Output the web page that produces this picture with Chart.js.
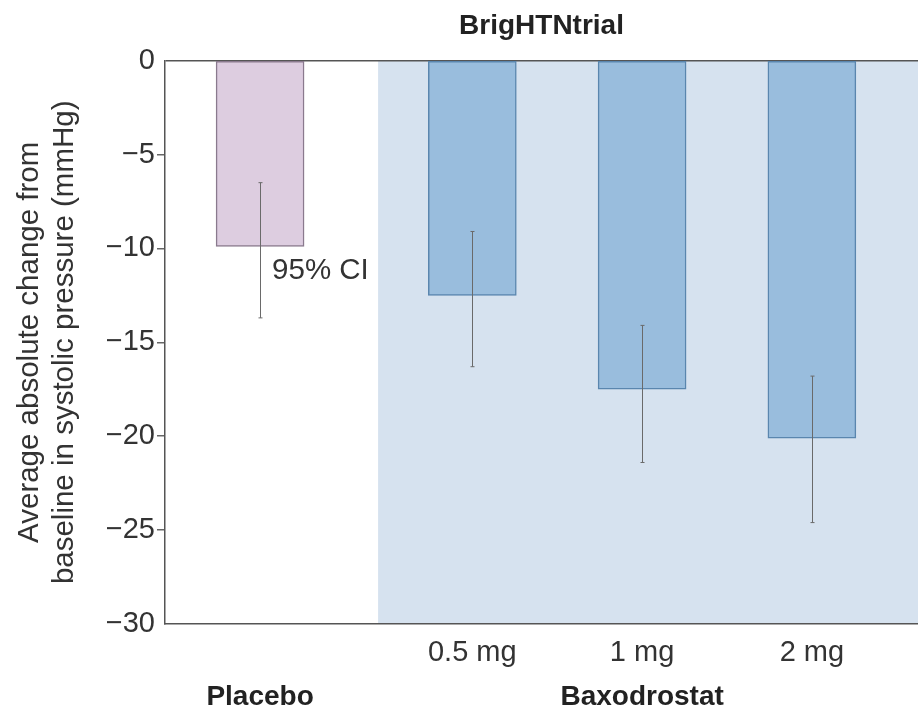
<!DOCTYPE html>
<html>
<head>
<meta charset="utf-8">
<script src="https://cdn.jsdelivr.net/npm/chart.js@4/dist/chart.umd.min.js"></script>
<style>
	body { margin: 0; background: #fff; }
	#wrap { width: 918px; height: 711px; }
</style>
</head>
<body>
<div id="wrap"><canvas id="bar-chart"></canvas></div>
<script>
const categories = ['Placebo', '0.5 mg', '1 mg', '2 mg']
const groups = ['Placebo', 'Baxodrostat', 'Baxodrostat', 'Baxodrostat']
const meanChange = [-9.9, -12.5, -17.5, -20.1]
const ciUpper = [-6.5, -9.1, -14.1, -16.8]
const ciLower = [-13.7, -16.3, -21.4, -24.6]
const yTicks = [0, -5, -10, -15, -20, -25, -30]

// layout: the drug group sits a little further from placebo
const groupGap = 0.25
const positions = categories.map((c, i) => i + (groups[i] !== groups[0] ? groupGap : 0))
const groupNames = [...new Set(groups)]
const groupCentres = groupNames.map((g) => {
	const p = positions.filter((v, i) => groups[i] === g)
	return p.reduce((a, b) => a + b, 0) / p.length
})

const font = 'Liberation Sans, Arial, Helvetica, sans-serif'
Chart.defaults.font.family = font
Chart.defaults.font.size = 29
Chart.defaults.color = '#333'

const barFill = groups.map((g) => (g === 'Placebo' ? '#ddcde0' : '#99bddd'))
const barEdge = groups.map((g) => (g === 'Placebo' ? '#8a7a8e' : '#5a86ae'))

const extras = {
	id: 'extras',
	beforeDraw(chart) {
		const { ctx, chartArea, scales } = chart
		const x0 = scales.x.getPixelForValue(positions[1] - 0.555)
		ctx.save()
		ctx.fillStyle = '#d6e2ef'
		ctx.fillRect(x0, chartArea.top, chartArea.right - x0, chartArea.bottom - chartArea.top)
		ctx.restore()
	},
	afterDatasetsDraw(chart) {
		const { ctx, scales } = chart
		ctx.save()
		ctx.strokeStyle = '#6a6a6a'
		ctx.lineWidth = 1
		positions.forEach((p, i) => {
			const x = Math.round(scales.x.getPixelForValue(p)) + 0.5
			const yTop = scales.y.getPixelForValue(ciUpper[i])
			const yBot = scales.y.getPixelForValue(ciLower[i])
			ctx.beginPath()
			ctx.moveTo(x, yTop)
			ctx.lineTo(x, yBot)
			ctx.moveTo(x - 2, yTop)
			ctx.lineTo(x + 2, yTop)
			ctx.moveTo(x - 2, yBot)
			ctx.lineTo(x + 2, yBot)
			ctx.stroke()
		})
		// CI note next to the placebo whisker
		ctx.fillStyle = '#333'
		ctx.font = '29.5px ' + font
		ctx.textBaseline = 'middle'
		ctx.fillText('95% CI', scales.x.getPixelForValue(positions[0]) + 12, scales.y.getPixelForValue(-11.2))
		ctx.restore()
	}
}

new Chart(document.getElementById('bar-chart'), {
	type: 'bar',
	data: {
		datasets: [
			{
				data: meanChange.map((v, i) => ({ x: positions[i], y: v })),
				backgroundColor: barFill,
				borderColor: barEdge,
				borderWidth: 1.5,
				borderSkipped: false,
				barThickness: 88
			}
		]
	},
	options: {
		responsive: true,
		maintainAspectRatio: false,
		animation: false,
		layout: { padding: 0 },
		plugins: {
			legend: { display: false },
			tooltip: { enabled: false },
			title: {
				display: true,
				text: 'BrigHTNtrial',
				fullSize: false,
				color: '#222',
				font: { size: 28, weight: 'bold' },
				padding: { top: 9, bottom: 18 }
			}
		},
		scales: {
			x: {
				type: 'linear',
				position: 'bottom',
				offset: false,
				weight: 0,
				min: -0.56,
				max: 3.875,
				afterBuildTicks: (scale) => {
					scale.ticks = positions.map((v) => ({ value: v }))
				},
				afterFit: (scale) => {
					scale.height = 50
				},
				ticks: {
					padding: 12,
					autoSkip: false,
					maxRotation: 0,
					callback: (v) => {
						const i = positions.indexOf(v)
						return groups[i] === 'Placebo' ? '' : categories[i]
					}
				},
				grid: { color: 'transparent', drawTicks: false },
				border: { display: true, color: '#555', width: 1.5 }
			},
			x2: {
				type: 'linear',
				position: 'bottom',
				offset: false,
				weight: 1,
				min: -0.56,
				max: 3.875,
				afterBuildTicks: (scale) => {
					scale.ticks = groupCentres.map((v) => ({ value: v }))
				},
				afterFit: (scale) => {
					scale.height = 37
				},
				ticks: {
					padding: 6,
					autoSkip: false,
					maxRotation: 0,
					color: '#222',
					font: { size: 28, weight: 'bold' },
					callback: (v) => groupNames[groupCentres.indexOf(v)]
				},
				grid: { display: false, drawTicks: false },
				border: { display: false }
			},
			y: {
				min: -30,
				max: 0,
				afterBuildTicks: (scale) => {
					scale.ticks = yTicks.map((v) => ({ value: v }))
				},
				afterFit: (scale) => {
					scale.width = 165
				},
				ticks: {
					padding: 2,
					callback: (v) => (v < 0 ? '\u2212' + Math.abs(v) : String(v))
				},
				grid: {
					tickLength: 8,
					color: (c) => (c.tick && c.tick.value === 0 ? '#555' : 'transparent'),
					lineWidth: 1.5,
					tickColor: (c) => (c.tick && (c.tick.value === 0 || c.tick.value === -30) ? 'transparent' : '#666'),
					tickWidth: 1.5
				},
				border: { color: '#555', width: 1.5 },
				title: {
					display: true,
					text: ['Average absolute change from', 'baseline in systolic pressure (mmHg)'],
					color: '#333',
					font: { size: 29.5 },
					padding: { top: 12, bottom: 2 }
				}
			}
		}
	},
	plugins: [extras]
})
</script>
</body>
</html>
